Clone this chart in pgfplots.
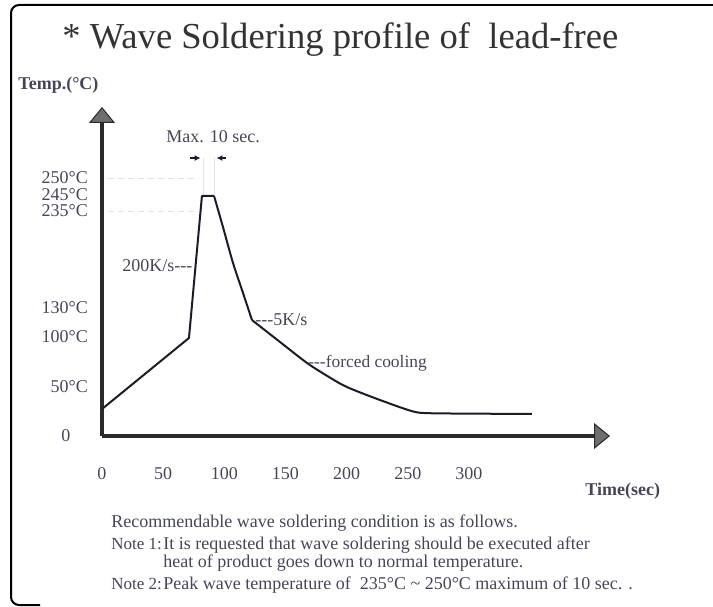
\documentclass[border=0pt]{standalone}
\usepackage{pgfplots}
\pgfplotsset{compat=1.18}
\usetikzlibrary{arrows.meta}
\usepackage{fontspec}
\setmainfont{Liberation Serif}
\definecolor{txt}{HTML}{45455A}
\definecolor{ax}{HTML}{2A2A2A}
\definecolor{crv}{HTML}{1C1C28}
\definecolor{faint}{HTML}{E2E2E2}
\definecolor{tipc}{HTML}{6E6E6E}
\newcommand{\pp}[2]{({(#1)*0.5pt},{(606-(#2))*0.5pt})}
\begin{document}
\begin{tikzpicture}
\useasboundingbox (0,0) rectangle (356.5pt,303pt);
% frame
\draw[black, line width=1pt, rounded corners=4pt] (60pt,300.5pt) -- (5.5pt,300.5pt) -- (5.5pt,0.5pt) -- (20pt,0.5pt);
\draw[black, line width=1pt] (50pt,300.5pt) -- (380pt,300.5pt);
\begin{axis}[
  at={(51pt,85pt)}, anchor=south west,
  scale only axis, width=254pt, height=164.5pt,
  xmin=0, xmax=415.3, ymin=0, ymax=332,
  axis x line=bottom, axis y line=left,
  axis line style={line width=2pt, ax, -{Triangle[width=13pt,length=8pt,line width=0.5pt,fill=tipc]}},
  major tick length=0,
  xtick={0,50,100,150,200,250,300},
  ytick={0,50,100,130,227,243.2,260.3},
  yticklabels={0\rule{8.75pt}{0pt},50°C,100°C,130°C,235°C,245°C,250°C},
  tick label style={font=\fontsize{9}{9}\selectfont, text=txt},
  xticklabel style={yshift=-12pt},
  yticklabel style={xshift=-3.5pt},
  /pgf/number format/assume math mode=true,
  clip=false,
]
% faint guide lines
\addplot[faint, densely dashed, line width=0.5pt] coordinates {(5,260.3) (79,260.3)};
\addplot[faint, densely dashed, line width=0.5pt] coordinates {(5,227) (79,227)};
\addplot[faint, line width=0.5pt] coordinates {(82.6,242) (82.6,281)};
\addplot[faint, line width=0.5pt] coordinates {(91.6,242) (91.6,281)};
% max 10 sec arrows
\draw[crv, line width=0.8pt, -{Latex[length=3pt,width=3pt]}] (axis cs:71.9,280.5) -- (axis cs:80.6,280.5);
\draw[crv, line width=0.8pt, -{Latex[length=3pt,width=3pt]}] (axis cs:101,280.5) -- (axis cs:93.6,280.5);
% profile
\addplot[crv, line width=1pt, line join=round] coordinates {
(0,27.2) (71.1,98.9) (81.7,242.2) (91.6,242.2)};
\addplot[crv, line width=1pt, smooth, tension=0.5] coordinates {
(91.6,242.2) (98.9,210.9) (107.1,174.6) (115.3,144.3) (122.6,117.0)};
\addplot[crv, line width=1pt, smooth, tension=0.5] coordinates {
(122.6,117.0) (145.5,94.9) (167.6,73.7) (185.2,59.8) (200.3,49.4)
(227.3,36.3) (254.2,24.8) (268,23.0) (300,22.6) (351.5,22.2)};
\end{axis}
% texts
\node[anchor=base west, inner sep=0, text=black!80, font=\fontsize{18.3}{20}\selectfont] at \pp{62}{49} {* Wave Soldering profile of~~lead-free};
\node[anchor=base west, inner sep=0, text=txt, font=\bfseries\fontsize{9}{10}\selectfont] at \pp{18}{90} {Temp.(°C)};
\node[anchor=base west, inner sep=0, text=txt, font=\bfseries\fontsize{9}{10}\selectfont] at \pp{585}{495} {Time(sec)};
\node[anchor=base west, inner sep=0, text=txt, font=\fontsize{9}{10}\selectfont] at \pp{166}{143} {Max. 10 sec.};
\node[anchor=base west, inner sep=0, text=txt, font=\fontsize{9}{10}\selectfont] at \pp{122}{272} {200K/s-{}-{}-};
\node[anchor=base west, inner sep=0, text=txt, font=\fontsize{9}{10}\selectfont] at \pp{255}{326} {-{}-{}-5K/s};
\node[anchor=base west, inner sep=0, text=txt, font=\fontsize{8.7}{10}\selectfont] at \pp{308}{368} {-{}-{}-forced cooling};
% notes
\begin{scope}[every node/.style={anchor=base west, inner sep=0, text=txt, font=\fontsize{9}{10}\selectfont}]
\node at \pp{111}{528} {Recommendable wave soldering condition is as follows.};
\node[font=\fontsize{8.5}{10}\selectfont] at \pp{111}{549} {Note 1:};
\node at \pp{163}{549} {It is requested that wave soldering should be executed after};
\node at \pp{163}{567} {heat of product goes down to normal temperature.};
\node[font=\fontsize{8.5}{10}\selectfont] at \pp{111}{589} {Note 2:};
\node at \pp{163}{589} {Peak wave temperature of~~235°C \textasciitilde{} 250°C maximum of 10 sec. .};
\end{scope}
\end{tikzpicture}
\end{document}
